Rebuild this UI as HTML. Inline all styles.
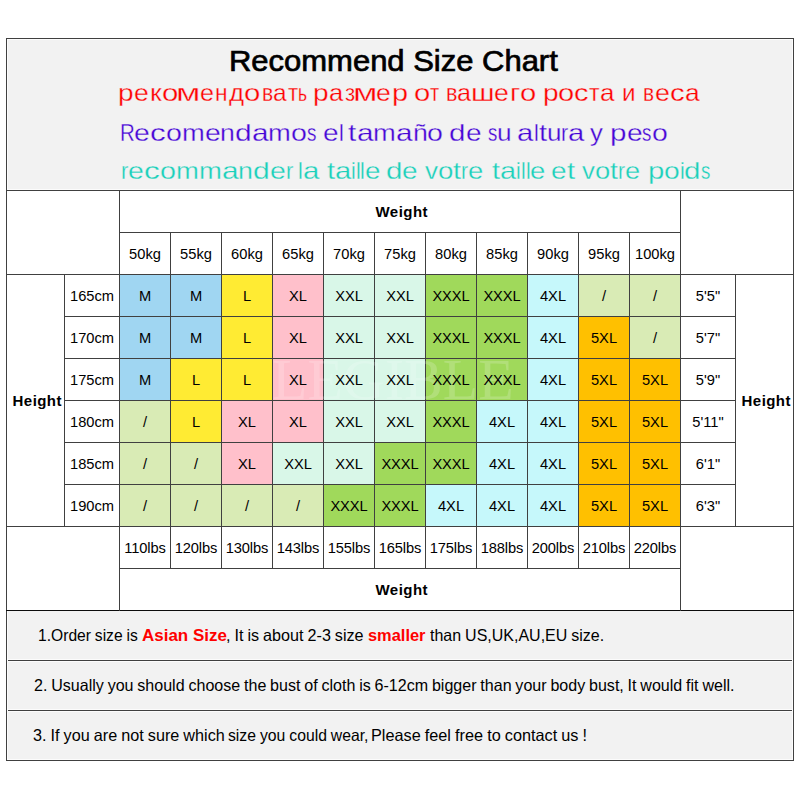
<!DOCTYPE html>
<html><head><meta charset="utf-8"><title>Recommend Size Chart</title>
<style>
html,body{margin:0;padding:0;background:#fff;}
body{width:800px;height:800px;position:relative;overflow:hidden;font-family:"Liberation Sans",sans-serif;color:#000;}
.b,.ln,.t,.h,.n{position:absolute;}
.ln{background:#404040;}
.t{font-size:15.4px;text-align:center;white-space:nowrap;transform:scaleX(0.953);}
.bd{font-weight:bold;font-size:15px;transform:none;letter-spacing:0.45px;box-sizing:border-box;padding-left:3.5px;}
.nar{letter-spacing:-0.1px;}
.lbs{letter-spacing:-0.15px;}
.h{white-space:nowrap;}
.wm{position:absolute;left:272px;top:351px;font-family:"Liberation Serif",serif;font-size:58px;line-height:58px;color:#fff;opacity:0.18;white-space:nowrap;}
.ln2{left:0;width:800px;height:30px;font-size:24px;line-height:30px;-webkit-text-stroke:0.3px #f2f2f2;}
.ln2 i{position:absolute;top:0;font-style:normal;transform-origin:0 0;}
.n{font-size:16.5px;white-space:nowrap;line-height:20px;transform-origin:0 0;}
.n b{color:#ff0000;}
</style></head><body>
<div class="b" style="left:6px;top:38px;width:788px;height:153px;background:#f2f2f2"></div>
<div class="b" style="left:6px;top:610px;width:788px;height:151px;background:#f2f2f2"></div>
<div class="b" style="left:119px;top:274px;width:52px;height:43px;background:#a0d6f2"></div>
<div class="b" style="left:170px;top:274px;width:52px;height:43px;background:#a0d6f2"></div>
<div class="b" style="left:221px;top:274px;width:52px;height:43px;background:#ffeb33"></div>
<div class="b" style="left:272px;top:274px;width:52px;height:43px;background:#ffc0cb"></div>
<div class="b" style="left:323px;top:274px;width:52px;height:43px;background:#d9f7e8"></div>
<div class="b" style="left:374px;top:274px;width:52px;height:43px;background:#d9f7e8"></div>
<div class="b" style="left:425px;top:274px;width:52px;height:43px;background:#a0d95b"></div>
<div class="b" style="left:476px;top:274px;width:52px;height:43px;background:#a0d95b"></div>
<div class="b" style="left:527px;top:274px;width:52px;height:43px;background:#c6f8fb"></div>
<div class="b" style="left:578px;top:274px;width:52px;height:43px;background:#d9ebb5"></div>
<div class="b" style="left:629px;top:274px;width:52px;height:43px;background:#d9ebb5"></div>
<div class="b" style="left:119px;top:316px;width:52px;height:43px;background:#a0d6f2"></div>
<div class="b" style="left:170px;top:316px;width:52px;height:43px;background:#a0d6f2"></div>
<div class="b" style="left:221px;top:316px;width:52px;height:43px;background:#ffeb33"></div>
<div class="b" style="left:272px;top:316px;width:52px;height:43px;background:#ffc0cb"></div>
<div class="b" style="left:323px;top:316px;width:52px;height:43px;background:#d9f7e8"></div>
<div class="b" style="left:374px;top:316px;width:52px;height:43px;background:#d9f7e8"></div>
<div class="b" style="left:425px;top:316px;width:52px;height:43px;background:#a0d95b"></div>
<div class="b" style="left:476px;top:316px;width:52px;height:43px;background:#a0d95b"></div>
<div class="b" style="left:527px;top:316px;width:52px;height:43px;background:#c6f8fb"></div>
<div class="b" style="left:578px;top:316px;width:52px;height:43px;background:#ffc000"></div>
<div class="b" style="left:629px;top:316px;width:52px;height:43px;background:#d9ebb5"></div>
<div class="b" style="left:119px;top:358px;width:52px;height:43px;background:#a0d6f2"></div>
<div class="b" style="left:170px;top:358px;width:52px;height:43px;background:#ffeb33"></div>
<div class="b" style="left:221px;top:358px;width:52px;height:43px;background:#ffeb33"></div>
<div class="b" style="left:272px;top:358px;width:52px;height:43px;background:#ffc0cb"></div>
<div class="b" style="left:323px;top:358px;width:52px;height:43px;background:#d9f7e8"></div>
<div class="b" style="left:374px;top:358px;width:52px;height:43px;background:#d9f7e8"></div>
<div class="b" style="left:425px;top:358px;width:52px;height:43px;background:#a0d95b"></div>
<div class="b" style="left:476px;top:358px;width:52px;height:43px;background:#a0d95b"></div>
<div class="b" style="left:527px;top:358px;width:52px;height:43px;background:#c6f8fb"></div>
<div class="b" style="left:578px;top:358px;width:52px;height:43px;background:#ffc000"></div>
<div class="b" style="left:629px;top:358px;width:52px;height:43px;background:#ffc000"></div>
<div class="b" style="left:119px;top:400px;width:52px;height:43px;background:#d9ebb5"></div>
<div class="b" style="left:170px;top:400px;width:52px;height:43px;background:#ffeb33"></div>
<div class="b" style="left:221px;top:400px;width:52px;height:43px;background:#ffc0cb"></div>
<div class="b" style="left:272px;top:400px;width:52px;height:43px;background:#ffc0cb"></div>
<div class="b" style="left:323px;top:400px;width:52px;height:43px;background:#d9f7e8"></div>
<div class="b" style="left:374px;top:400px;width:52px;height:43px;background:#d9f7e8"></div>
<div class="b" style="left:425px;top:400px;width:52px;height:43px;background:#a0d95b"></div>
<div class="b" style="left:476px;top:400px;width:52px;height:43px;background:#c6f8fb"></div>
<div class="b" style="left:527px;top:400px;width:52px;height:43px;background:#c6f8fb"></div>
<div class="b" style="left:578px;top:400px;width:52px;height:43px;background:#ffc000"></div>
<div class="b" style="left:629px;top:400px;width:52px;height:43px;background:#ffc000"></div>
<div class="b" style="left:119px;top:442px;width:52px;height:43px;background:#d9ebb5"></div>
<div class="b" style="left:170px;top:442px;width:52px;height:43px;background:#d9ebb5"></div>
<div class="b" style="left:221px;top:442px;width:52px;height:43px;background:#ffc0cb"></div>
<div class="b" style="left:272px;top:442px;width:52px;height:43px;background:#d9f7e8"></div>
<div class="b" style="left:323px;top:442px;width:52px;height:43px;background:#d9f7e8"></div>
<div class="b" style="left:374px;top:442px;width:52px;height:43px;background:#a0d95b"></div>
<div class="b" style="left:425px;top:442px;width:52px;height:43px;background:#a0d95b"></div>
<div class="b" style="left:476px;top:442px;width:52px;height:43px;background:#c6f8fb"></div>
<div class="b" style="left:527px;top:442px;width:52px;height:43px;background:#c6f8fb"></div>
<div class="b" style="left:578px;top:442px;width:52px;height:43px;background:#ffc000"></div>
<div class="b" style="left:629px;top:442px;width:52px;height:43px;background:#ffc000"></div>
<div class="b" style="left:119px;top:484px;width:52px;height:43px;background:#d9ebb5"></div>
<div class="b" style="left:170px;top:484px;width:52px;height:43px;background:#d9ebb5"></div>
<div class="b" style="left:221px;top:484px;width:52px;height:43px;background:#d9ebb5"></div>
<div class="b" style="left:272px;top:484px;width:52px;height:43px;background:#d9ebb5"></div>
<div class="b" style="left:323px;top:484px;width:52px;height:43px;background:#a0d95b"></div>
<div class="b" style="left:374px;top:484px;width:52px;height:43px;background:#a0d95b"></div>
<div class="b" style="left:425px;top:484px;width:52px;height:43px;background:#c6f8fb"></div>
<div class="b" style="left:476px;top:484px;width:52px;height:43px;background:#c6f8fb"></div>
<div class="b" style="left:527px;top:484px;width:52px;height:43px;background:#c6f8fb"></div>
<div class="b" style="left:578px;top:484px;width:52px;height:43px;background:#ffc000"></div>
<div class="b" style="left:629px;top:484px;width:52px;height:43px;background:#ffc000"></div>
<div class="ln" style="left:6px;top:38px;width:788px;height:1px"></div>
<div class="ln" style="left:6px;top:760px;width:788px;height:1px"></div>
<div class="ln" style="left:6px;top:38px;width:1px;height:723px"></div>
<div class="ln" style="left:793px;top:38px;width:1px;height:723px"></div>
<div class="ln" style="left:6px;top:190px;width:788px;height:1px"></div>
<div class="ln" style="left:6px;top:660px;width:788px;height:1px"></div>
<div class="ln" style="left:6px;top:710px;width:788px;height:1px"></div>
<div class="b" style="left:6px;top:610px;width:788px;height:1px;background:#0c0c0c"></div>
<div class="ln" style="left:119px;top:232px;width:562px;height:1px"></div>
<div class="ln" style="left:6px;top:274px;width:788px;height:1px"></div>
<div class="ln" style="left:64px;top:316px;width:672px;height:1px"></div>
<div class="ln" style="left:64px;top:358px;width:672px;height:1px"></div>
<div class="ln" style="left:64px;top:400px;width:672px;height:1px"></div>
<div class="ln" style="left:64px;top:442px;width:672px;height:1px"></div>
<div class="ln" style="left:64px;top:484px;width:672px;height:1px"></div>
<div class="ln" style="left:6px;top:526px;width:788px;height:1px"></div>
<div class="ln" style="left:119px;top:568px;width:562px;height:1px"></div>
<div class="ln" style="left:119px;top:190px;width:1px;height:421px"></div>
<div class="ln" style="left:680px;top:190px;width:1px;height:421px"></div>
<div class="ln" style="left:64px;top:274px;width:1px;height:253px"></div>
<div class="ln" style="left:735px;top:274px;width:1px;height:253px"></div>
<div class="ln" style="left:170px;top:232px;width:1px;height:337px"></div>
<div class="ln" style="left:221px;top:232px;width:1px;height:337px"></div>
<div class="ln" style="left:272px;top:232px;width:1px;height:337px"></div>
<div class="ln" style="left:323px;top:232px;width:1px;height:337px"></div>
<div class="ln" style="left:374px;top:232px;width:1px;height:337px"></div>
<div class="ln" style="left:425px;top:232px;width:1px;height:337px"></div>
<div class="ln" style="left:476px;top:232px;width:1px;height:337px"></div>
<div class="ln" style="left:527px;top:232px;width:1px;height:337px"></div>
<div class="ln" style="left:578px;top:232px;width:1px;height:337px"></div>
<div class="ln" style="left:629px;top:232px;width:1px;height:337px"></div>
<div class="b" style="left:7px;top:39px;width:786px;height:1px;background:#fcfcfc"></div>
<div class="b" style="left:7px;top:189px;width:786px;height:1px;background:#fcfcfc"></div>
<div class="b" style="left:7px;top:39px;width:1px;height:151px;background:#fcfcfc"></div>
<div class="b" style="left:792px;top:39px;width:1px;height:151px;background:#fcfcfc"></div>
<div class="b" style="left:7px;top:659px;width:786px;height:1px;background:#fcfcfc"></div>
<div class="b" style="left:7px;top:661px;width:786px;height:1px;background:#fcfcfc"></div>
<div class="b" style="left:7px;top:709px;width:786px;height:1px;background:#fcfcfc"></div>
<div class="b" style="left:7px;top:711px;width:786px;height:1px;background:#fcfcfc"></div>
<div class="b" style="left:7px;top:759px;width:786px;height:1px;background:#fcfcfc"></div>
<div class="b" style="left:7px;top:611px;width:1px;height:149px;background:#fcfcfc"></div>
<div class="b" style="left:792px;top:611px;width:1px;height:149px;background:#fcfcfc"></div>
<div class="wm">LEGIBLE</div>
<div class="t bd" style="left:119px;top:191px;width:562px;height:42px;line-height:42px">Weight</div>
<div class="t bd" style="left:119px;top:569px;width:562px;height:42px;line-height:42px">Weight</div>
<div class="t bd" style="left:6px;top:380px;width:59px;height:42px;line-height:42px">Height</div>
<div class="t bd" style="left:735px;top:380px;width:59px;height:42px;line-height:42px">Height</div>
<div class="t" style="left:119px;top:233px;width:52px;height:42px;line-height:42px">50kg</div>
<div class="t lbs" style="left:119px;top:527px;width:52px;height:42px;line-height:42px">110lbs</div>
<div class="t" style="left:170px;top:233px;width:52px;height:42px;line-height:42px">55kg</div>
<div class="t lbs" style="left:170px;top:527px;width:52px;height:42px;line-height:42px">120lbs</div>
<div class="t" style="left:221px;top:233px;width:52px;height:42px;line-height:42px">60kg</div>
<div class="t lbs" style="left:221px;top:527px;width:52px;height:42px;line-height:42px">130lbs</div>
<div class="t" style="left:272px;top:233px;width:52px;height:42px;line-height:42px">65kg</div>
<div class="t lbs" style="left:272px;top:527px;width:52px;height:42px;line-height:42px">143lbs</div>
<div class="t" style="left:323px;top:233px;width:52px;height:42px;line-height:42px">70kg</div>
<div class="t lbs" style="left:323px;top:527px;width:52px;height:42px;line-height:42px">155lbs</div>
<div class="t" style="left:374px;top:233px;width:52px;height:42px;line-height:42px">75kg</div>
<div class="t lbs" style="left:374px;top:527px;width:52px;height:42px;line-height:42px">165lbs</div>
<div class="t" style="left:425px;top:233px;width:52px;height:42px;line-height:42px">80kg</div>
<div class="t lbs" style="left:425px;top:527px;width:52px;height:42px;line-height:42px">175lbs</div>
<div class="t" style="left:476px;top:233px;width:52px;height:42px;line-height:42px">85kg</div>
<div class="t lbs" style="left:476px;top:527px;width:52px;height:42px;line-height:42px">188lbs</div>
<div class="t" style="left:527px;top:233px;width:52px;height:42px;line-height:42px">90kg</div>
<div class="t lbs" style="left:527px;top:527px;width:52px;height:42px;line-height:42px">200lbs</div>
<div class="t" style="left:578px;top:233px;width:52px;height:42px;line-height:42px">95kg</div>
<div class="t lbs" style="left:578px;top:527px;width:52px;height:42px;line-height:42px">210lbs</div>
<div class="t" style="left:629px;top:233px;width:52px;height:42px;line-height:42px">100kg</div>
<div class="t lbs" style="left:629px;top:527px;width:52px;height:42px;line-height:42px">220lbs</div>
<div class="t" style="left:64px;top:275px;width:56px;height:42px;line-height:42px">165cm</div>
<div class="t" style="left:680px;top:275px;width:56px;height:42px;line-height:42px">5'5"</div>
<div class="t" style="left:119px;top:275px;width:52px;height:42px;line-height:42px">M</div>
<div class="t" style="left:170px;top:275px;width:52px;height:42px;line-height:42px">M</div>
<div class="t" style="left:221px;top:275px;width:52px;height:42px;line-height:42px">L</div>
<div class="t" style="left:272px;top:275px;width:52px;height:42px;line-height:42px">XL</div>
<div class="t" style="left:323px;top:275px;width:52px;height:42px;line-height:42px">XXL</div>
<div class="t" style="left:374px;top:275px;width:52px;height:42px;line-height:42px">XXL</div>
<div class="t nar" style="left:425px;top:275px;width:52px;height:42px;line-height:42px">XXXL</div>
<div class="t nar" style="left:476px;top:275px;width:52px;height:42px;line-height:42px">XXXL</div>
<div class="t" style="left:527px;top:275px;width:52px;height:42px;line-height:42px">4XL</div>
<div class="t" style="left:578px;top:275px;width:52px;height:42px;line-height:42px">/</div>
<div class="t" style="left:629px;top:275px;width:52px;height:42px;line-height:42px">/</div>
<div class="t" style="left:64px;top:317px;width:56px;height:42px;line-height:42px">170cm</div>
<div class="t" style="left:680px;top:317px;width:56px;height:42px;line-height:42px">5'7"</div>
<div class="t" style="left:119px;top:317px;width:52px;height:42px;line-height:42px">M</div>
<div class="t" style="left:170px;top:317px;width:52px;height:42px;line-height:42px">M</div>
<div class="t" style="left:221px;top:317px;width:52px;height:42px;line-height:42px">L</div>
<div class="t" style="left:272px;top:317px;width:52px;height:42px;line-height:42px">XL</div>
<div class="t" style="left:323px;top:317px;width:52px;height:42px;line-height:42px">XXL</div>
<div class="t" style="left:374px;top:317px;width:52px;height:42px;line-height:42px">XXL</div>
<div class="t nar" style="left:425px;top:317px;width:52px;height:42px;line-height:42px">XXXL</div>
<div class="t nar" style="left:476px;top:317px;width:52px;height:42px;line-height:42px">XXXL</div>
<div class="t" style="left:527px;top:317px;width:52px;height:42px;line-height:42px">4XL</div>
<div class="t" style="left:578px;top:317px;width:52px;height:42px;line-height:42px">5XL</div>
<div class="t" style="left:629px;top:317px;width:52px;height:42px;line-height:42px">/</div>
<div class="t" style="left:64px;top:359px;width:56px;height:42px;line-height:42px">175cm</div>
<div class="t" style="left:680px;top:359px;width:56px;height:42px;line-height:42px">5'9"</div>
<div class="t" style="left:119px;top:359px;width:52px;height:42px;line-height:42px">M</div>
<div class="t" style="left:170px;top:359px;width:52px;height:42px;line-height:42px">L</div>
<div class="t" style="left:221px;top:359px;width:52px;height:42px;line-height:42px">L</div>
<div class="t" style="left:272px;top:359px;width:52px;height:42px;line-height:42px">XL</div>
<div class="t" style="left:323px;top:359px;width:52px;height:42px;line-height:42px">XXL</div>
<div class="t" style="left:374px;top:359px;width:52px;height:42px;line-height:42px">XXL</div>
<div class="t nar" style="left:425px;top:359px;width:52px;height:42px;line-height:42px">XXXL</div>
<div class="t nar" style="left:476px;top:359px;width:52px;height:42px;line-height:42px">XXXL</div>
<div class="t" style="left:527px;top:359px;width:52px;height:42px;line-height:42px">4XL</div>
<div class="t" style="left:578px;top:359px;width:52px;height:42px;line-height:42px">5XL</div>
<div class="t" style="left:629px;top:359px;width:52px;height:42px;line-height:42px">5XL</div>
<div class="t" style="left:64px;top:401px;width:56px;height:42px;line-height:42px">180cm</div>
<div class="t" style="left:680px;top:401px;width:56px;height:42px;line-height:42px">5'11"</div>
<div class="t" style="left:119px;top:401px;width:52px;height:42px;line-height:42px">/</div>
<div class="t" style="left:170px;top:401px;width:52px;height:42px;line-height:42px">L</div>
<div class="t" style="left:221px;top:401px;width:52px;height:42px;line-height:42px">XL</div>
<div class="t" style="left:272px;top:401px;width:52px;height:42px;line-height:42px">XL</div>
<div class="t" style="left:323px;top:401px;width:52px;height:42px;line-height:42px">XXL</div>
<div class="t" style="left:374px;top:401px;width:52px;height:42px;line-height:42px">XXL</div>
<div class="t nar" style="left:425px;top:401px;width:52px;height:42px;line-height:42px">XXXL</div>
<div class="t" style="left:476px;top:401px;width:52px;height:42px;line-height:42px">4XL</div>
<div class="t" style="left:527px;top:401px;width:52px;height:42px;line-height:42px">4XL</div>
<div class="t" style="left:578px;top:401px;width:52px;height:42px;line-height:42px">5XL</div>
<div class="t" style="left:629px;top:401px;width:52px;height:42px;line-height:42px">5XL</div>
<div class="t" style="left:64px;top:443px;width:56px;height:42px;line-height:42px">185cm</div>
<div class="t" style="left:680px;top:443px;width:56px;height:42px;line-height:42px">6'1"</div>
<div class="t" style="left:119px;top:443px;width:52px;height:42px;line-height:42px">/</div>
<div class="t" style="left:170px;top:443px;width:52px;height:42px;line-height:42px">/</div>
<div class="t" style="left:221px;top:443px;width:52px;height:42px;line-height:42px">XL</div>
<div class="t" style="left:272px;top:443px;width:52px;height:42px;line-height:42px">XXL</div>
<div class="t" style="left:323px;top:443px;width:52px;height:42px;line-height:42px">XXL</div>
<div class="t nar" style="left:374px;top:443px;width:52px;height:42px;line-height:42px">XXXL</div>
<div class="t nar" style="left:425px;top:443px;width:52px;height:42px;line-height:42px">XXXL</div>
<div class="t" style="left:476px;top:443px;width:52px;height:42px;line-height:42px">4XL</div>
<div class="t" style="left:527px;top:443px;width:52px;height:42px;line-height:42px">4XL</div>
<div class="t" style="left:578px;top:443px;width:52px;height:42px;line-height:42px">5XL</div>
<div class="t" style="left:629px;top:443px;width:52px;height:42px;line-height:42px">5XL</div>
<div class="t" style="left:64px;top:485px;width:56px;height:42px;line-height:42px">190cm</div>
<div class="t" style="left:680px;top:485px;width:56px;height:42px;line-height:42px">6'3"</div>
<div class="t" style="left:119px;top:485px;width:52px;height:42px;line-height:42px">/</div>
<div class="t" style="left:170px;top:485px;width:52px;height:42px;line-height:42px">/</div>
<div class="t" style="left:221px;top:485px;width:52px;height:42px;line-height:42px">/</div>
<div class="t" style="left:272px;top:485px;width:52px;height:42px;line-height:42px">/</div>
<div class="t nar" style="left:323px;top:485px;width:52px;height:42px;line-height:42px">XXXL</div>
<div class="t nar" style="left:374px;top:485px;width:52px;height:42px;line-height:42px">XXXL</div>
<div class="t" style="left:425px;top:485px;width:52px;height:42px;line-height:42px">4XL</div>
<div class="t" style="left:476px;top:485px;width:52px;height:42px;line-height:42px">4XL</div>
<div class="t" style="left:527px;top:485px;width:52px;height:42px;line-height:42px">4XL</div>
<div class="t" style="left:578px;top:485px;width:52px;height:42px;line-height:42px">5XL</div>
<div class="t" style="left:629px;top:485px;width:52px;height:42px;line-height:42px">5XL</div>
<div class="h" id="title" style="left:228.5px;top:44.2px;font-size:29px;line-height:34px;-webkit-text-stroke:0.7px #000;transform-origin:0 0;transform:scaleX(1.068);">Recommend Size Chart</div>
<div class="h ln2" style="top:78px;color:#ff0000">
<i style="left:118.13px;transform:scaleX(1.1682)">р</i><i style="left:134.49px;transform:scaleX(1.1062)">е</i><i style="left:150.12px;transform:scaleX(1.1111)">к</i><i style="left:161.88px;transform:scaleX(1.2212)">о</i><i style="left:176.24px;transform:scaleX(1.4771)">м</i><i style="left:200.2px;transform:scaleX(1.0487)">е</i><i style="left:215.29px;transform:scaleX(0.9444)">н</i><i style="left:228.54px;transform:scaleX(1.0709)">д</i><i style="left:244.38px;transform:scaleX(1.2212)">о</i><i style="left:261.6px;transform:scaleX(0.88)">в</i><i style="left:272.73px;transform:scaleX(1.0163)">а</i><i style="left:287.73px;transform:scaleX(0.9216)">т</i><i style="left:298.17px;transform:scaleX(0.7245)">ь</i> 
<i style="left:313.13px;transform:scaleX(1.1682)">р</i><i style="left:328.93px;transform:scaleX(1.065)">а</i><i style="left:345.04px;transform:scaleX(0.9263)">з</i><i style="left:353.08px;transform:scaleX(1.4809)">м</i><i style="left:376.39px;transform:scaleX(1.1062)">е</i><i style="left:391.83px;transform:scaleX(1.2009)">р</i> 
<i style="left:413.78px;transform:scaleX(1.2168)">о</i><i style="left:429.67px;transform:scaleX(0.8333)">т</i> 
<i style="left:445.72px;transform:scaleX(0.9)">в</i><i style="left:457.05px;transform:scaleX(1.0488)">а</i><i style="left:471.03px;transform:scaleX(1.2201)">ш</i><i style="left:494.49px;transform:scaleX(1.1062)">е</i><i style="left:509.91px;transform:scaleX(1.1719)">г</i><i style="left:520.03px;transform:scaleX(1.2168)">о</i> 
<i style="left:542.53px;transform:scaleX(1.1682)">р</i><i style="left:558.19px;transform:scaleX(1.2124)">о</i><i style="left:574.4px;transform:scaleX(1.2019)">с</i><i style="left:589.02px;transform:scaleX(0.9608)">т</i><i style="left:600.02px;transform:scaleX(1.0813)">а</i> 
<i style="left:621.78px;transform:scaleX(1.01)">и</i> 
<i style="left:643.22px;transform:scaleX(0.87)">в</i><i style="left:654.88px;transform:scaleX(1.115)">е</i><i style="left:670.08px;transform:scaleX(1.2212)">с</i><i style="left:685.3px;transform:scaleX(1.0976)">а</i>
</div>
<div class="h ln2" style="top:117.6px;color:#4605d7">
<i style="left:119.53px;transform:scaleX(0.851)">R</i><i style="left:134.28px;transform:scaleX(1.1833)">e</i><i style="left:150.07px;transform:scaleX(1.3102)">c</i><i style="left:165.8px;transform:scaleX(1.1924)">o</i><i style="left:181.71px;transform:scaleX(1.1401)">m</i><i style="left:204.51px;transform:scaleX(1.1833)">e</i><i style="left:220.3px;transform:scaleX(1.1105)">n</i><i style="left:235.12px;transform:scaleX(1.247)">d</i><i style="left:251.77px;transform:scaleX(1.2434)">a</i><i style="left:268.37px;transform:scaleX(1.1401)">m</i><i style="left:291.16px;transform:scaleX(1.1924)">o</i><i style="left:307.07px;transform:scaleX(0.7857)">s</i> 
<i style="left:323.27px;transform:scaleX(1.1687)">e</i><i style="left:338.88px;transform:scaleX(0.9001)">l</i> 
<i style="left:348.35px;transform:scaleX(1.2339)">t</i><i style="left:356.57px;transform:scaleX(1.242)">a</i><i style="left:373.15px;transform:scaleX(1.1389)">m</i><i style="left:395.92px;transform:scaleX(1.242)">a</i><i style="left:412.5px;transform:scaleX(1.1092)">ñ</i><i style="left:427.31px;transform:scaleX(1.1911)">o</i> 
<i style="left:449.38px;transform:scaleX(1.2316)">d</i><i style="left:465.82px;transform:scaleX(1.1687)">e</i> 
<i style="left:487.95px;transform:scaleX(0.776)">s</i><i style="left:497.26px;transform:scaleX(1.0932)">u</i> 
<i style="left:517.46px;transform:scaleX(1.2197)">a</i><i style="left:533.74px;transform:scaleX(0.894)">l</i><i style="left:538.51px;transform:scaleX(1.2117)">t</i><i style="left:546.59px;transform:scaleX(1.0857)">u</i><i style="left:561.08px;transform:scaleX(0.8977)">r</i><i style="left:568.26px;transform:scaleX(1.2197)">a</i> 
<i style="left:590.42px;transform:scaleX(1.072)">y</i> 
<i style="left:610.09px;transform:scaleX(1.2342)">p</i><i style="left:626.56px;transform:scaleX(1.1763)">e</i><i style="left:642.26px;transform:scaleX(0.781)">s</i><i style="left:651.64px;transform:scaleX(1.1853)">o</i> 
</div>
<div class="h ln2" style="top:156.4px;color:#1ad0ba">
<i style="left:121.08px;transform:scaleX(0.919)">r</i><i style="left:128.42px;transform:scaleX(1.1882)">e</i><i style="left:144.28px;transform:scaleX(1.3156)">c</i><i style="left:160.07px;transform:scaleX(1.1973)">o</i><i style="left:176.05px;transform:scaleX(1.1448)">m</i><i style="left:198.94px;transform:scaleX(1.1448)">m</i><i style="left:221.83px;transform:scaleX(1.2485)">a</i><i style="left:238.49px;transform:scaleX(1.1151)">n</i><i style="left:253.38px;transform:scaleX(1.2522)">d</i><i style="left:270.09px;transform:scaleX(1.1882)">e</i><i style="left:285.95px;transform:scaleX(0.919)">r</i> 
<i style="left:298.4px;transform:scaleX(0.9001)">l</i><i style="left:303.2px;transform:scaleX(1.228)">a</i> 
<i style="left:326.5px;transform:scaleX(1.2108)">t</i><i style="left:334.58px;transform:scaleX(1.2187)">a</i><i style="left:350.85px;transform:scaleX(0.8933)">i</i><i style="left:355.61px;transform:scaleX(0.8933)">l</i><i style="left:360.37px;transform:scaleX(0.8933)">l</i><i style="left:365.14px;transform:scaleX(1.1598)">e</i> 
<i style="left:385.88px;transform:scaleX(1.2316)">d</i><i style="left:402.32px;transform:scaleX(1.1687)">e</i> 
<i style="left:424.9px;transform:scaleX(1.0853)">v</i><i style="left:437.93px;transform:scaleX(1.1536)">o</i><i style="left:453.32px;transform:scaleX(1.1951)">t</i><i style="left:461.29px;transform:scaleX(0.8854)">r</i><i style="left:468.37px;transform:scaleX(1.1448)">e</i> 
<i style="left:492.21px;transform:scaleX(1.197)">t</i><i style="left:500.19px;transform:scaleX(1.2048)">a</i><i style="left:516.27px;transform:scaleX(0.8831)">i</i><i style="left:520.98px;transform:scaleX(0.8831)">l</i><i style="left:525.69px;transform:scaleX(0.8831)">l</i><i style="left:530.4px;transform:scaleX(1.1466)">e</i> 
<i style="left:550.9px;transform:scaleX(1.1687)">e</i><i style="left:566.5px;transform:scaleX(1.22)">t</i> 
<i style="left:581.9px;transform:scaleX(1.0759)">v</i><i style="left:594.81px;transform:scaleX(1.1436)">o</i><i style="left:610.08px;transform:scaleX(1.1847)">t</i><i style="left:617.98px;transform:scaleX(0.8777)">r</i><i style="left:624.99px;transform:scaleX(1.1348)">e</i> 
<i style="left:647.6px;transform:scaleX(1.2262)">p</i><i style="left:663.97px;transform:scaleX(1.1777)">o</i><i style="left:679.69px;transform:scaleX(0.9001)">i</i><i style="left:684.49px;transform:scaleX(1.2316)">d</i><i style="left:700.93px;transform:scaleX(0.776)">s</i> 
</div>
<div class="n" style="left:38.32px;top:625px;transform:scaleX(0.9469);font-size:16.5px;word-spacing:-0.5px">1.Order size is</div>
<div class="n" style="left:141.99px;top:625px;transform:scaleX(1.0276);font-size:16.5px;font-weight:bold;color:#ff0000">Asian Size</div>
<div class="n" style="left:226.23px;top:625px;transform:scaleX(0.9787);font-size:16.5px;word-spacing:-0.5px">, It is about 2-3 size</div>
<div class="n" style="left:367.75px;top:625px;transform:scaleX(0.9938);font-size:16.5px;font-weight:bold;color:#ff0000">smaller</div>
<div class="n" style="left:430.16px;top:625px;transform:scaleX(0.9697);font-size:16.5px;word-spacing:-0.5px">than US,UK,AU,EU size.</div>
<div class="n" id="n2" style="left:34px;top:675px;transform:scaleX(0.9728);word-spacing:-0.67px">2. Usually you should choose the bust of cloth is 6-12cm bigger than your body bust, It would fit well.</div>
<div class="n" style="left:33.26px;top:725px;transform:scaleX(0.9814);font-size:16.5px;word-spacing:-0.45px">3. If you are not sure which</div>
<div class="n" style="left:228.12px;top:725px;transform:scaleX(0.9542);font-size:16.5px;word-spacing:-0.45px">size you could wear,</div>
<div class="n" style="left:371.47px;top:725px;transform:scaleX(0.9852);font-size:16.5px;word-spacing:-0.45px">Please feel free to contact us !</div>
</body></html>
